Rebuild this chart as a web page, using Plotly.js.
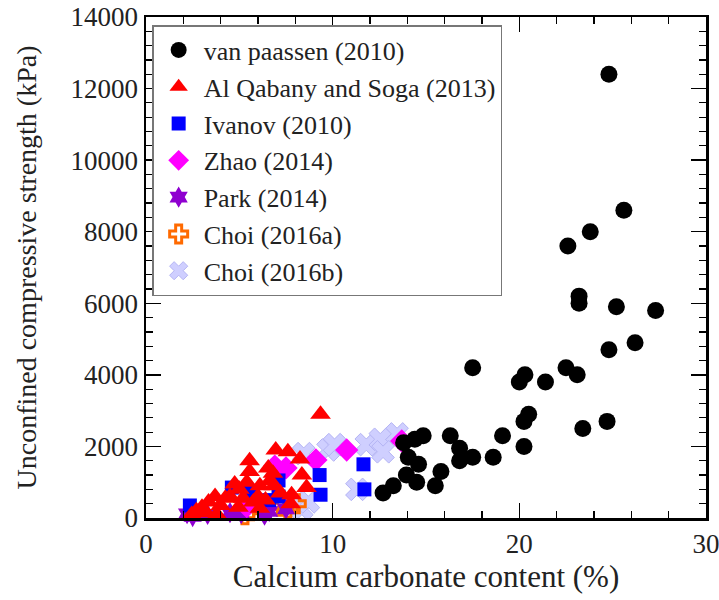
<!DOCTYPE html>
<html>
<head>
<meta charset="utf-8">
<script src="https://cdn.plot.ly/plotly-3.0.1.min.js"></script>
<style>
  html, body { margin: 0; padding: 0; background: #fff; }
  #chart { width: 719px; height: 600px; }
</style>
</head>
<body>
<div id="chart"></div>
<script>
// CaCO3 content (%) vs. unconfined compressive strength (kPa), by study
const vanPaassenX = [24.8, 25.6, 23.8, 22.6, 23.2, 23.2, 25.2, 27.3, 24.8, 26.2, 17.5, 20.0, 20.3, 21.4, 22.5, 23.1, 20.5, 20.25, 20.25, 23.4, 24.7, 19.1, 18.6, 16.3, 16.8, 16.8, 17.5, 15.8, 15.5, 14.85, 14.4, 13.8, 14.05, 14.6, 13.95, 14.5, 13.25, 12.7];
const vanPaassenY = [12400, 8600, 8000, 7600, 6200, 6000, 5900, 5800, 4700, 4900, 4200, 3800, 4000, 3800, 4200, 4000, 2900, 2700, 2000, 2500, 2700, 2300, 1700, 2300, 1950, 1600, 1700, 1300, 900, 2300, 2200, 2100, 1700, 1500, 1200, 1000, 900, 700];

const alQabanyX = [9.35, 6.95, 7.6, 8.25, 8.35, 8.6, 7.8, 7.75, 6.8, 6.85, 5.55, 5.55, 6.55, 5.4, 5.0, 6.1, 6.65, 4.25, 3.7, 3.35, 2.7, 3.8, 2.45, 4.95, 5.75, 6.1, 4.75, 4.5, 6.0, 7.2, 3.0, 4.0, 5.2, 6.4, 3.2];
const alQabanyY = [2900, 1900, 1850, 1650, 1200, 850, 650, 400, 1250, 900, 1600, 1300, 1400, 1000, 800, 900, 1050, 550, 600, 450, 200, 100, 100, 300, 450, 270, 950, 600, 600, 700, 300, 350, 550, 500, 150];

const ivanovX = [2.35, 4.6, 7.1, 7.1, 9.3, 9.35, 11.65, 11.7, 6.6, 5.6];
const ivanovY = [350, 850, 1050, 600, 1200, 650, 1500, 800, 500, 700];

const zhaoX = [10.75, 9.1, 7.5, 13.7, 5.4, 6.9];
const zhaoY = [1900, 1620, 1400, 2150, 320, 1450];

const parkX = [2.2, 2.5, 3.3, 4.5, 5.1, 6.35, 6.6, 7.5];
const parkY = [120, 40, 100, 150, 120, 80, 180, 250];

const choiAX = [5.3, 5.6, 7.6, 8.05, 6.3, 7.2];
const choiAY = [90, 200, 270, 400, 220, 330];

const choiBX = [8.35, 8.7, 8.45, 9.75, 10.1, 11.8, 12.55, 13.45, 11.3, 12.7];
const choiBY = [250, 450, 1800, 1900, 2050, 2050, 2200, 2350, 800, 1850];

const xTickVals = [0, 10, 20, 30];
const yTickVals = [0, 2000, 4000, 6000, 8000, 10000, 12000, 14000];

// drawn bottom-to-top; legend order is reversed so van Paassen is listed first
const traces = [
  { name: 'Choi (2016b)', x: choiBX, y: choiBY,
    marker: { symbol: 'x', size: 20, color: '#cfcfff', line: { color: '#b4b4f4', width: 1 } } },
  { name: 'Choi (2016a)', x: choiAX, y: choiAY,
    marker: { symbol: 'cross-open', size: 15, color: '#ff6a00', line: { color: '#ff6a00', width: 3 } } },
  { name: 'Park (2014)', x: parkX, y: parkY,
    marker: { symbol: 'hexagram', size: 16, color: '#8f00d0' } },
  { name: 'Zhao (2014)', x: zhaoX, y: zhaoY,
    marker: { symbol: 'diamond', size: 18, color: '#ff00ff' } },
  { name: 'Ivanov (2010)', x: ivanovX, y: ivanovY,
    marker: { symbol: 'square', size: 14, color: '#0000ff' } },
  { name: 'Al Qabany and Soga (2013)', x: alQabanyX, y: alQabanyY,
    marker: { symbol: 'triangle-up', size: 18, color: '#ff0000' } },
  { name: 'van paassen (2010)', x: vanPaassenX, y: vanPaassenY,
    marker: { symbol: 'circle', size: 17, color: '#000000' } }
].map(t => Object.assign({ type: 'scatter', mode: 'markers', cliponaxis: false }, t));

const serif = '"Liberation Serif", serif';

const axisBase = {
  showline: true, linecolor: '#000', linewidth: 2.5, mirror: 'ticks',
  ticks: 'inside', ticklen: 15, tickwidth: 1.5, tickcolor: '#000',
  showgrid: false, zeroline: false, tickformat: 'd',
  ticklabeloverflow: 'allow',
  tickfont: { family: serif, size: 27, color: '#222' }
};

const layout = {
  width: 719, height: 600,
  margin: { l: 146, r: 13, t: 17, b: 82 },
  paper_bgcolor: '#fff', plot_bgcolor: '#fff',
  showlegend: true,
  font: { family: serif, color: '#222' },
  xaxis: Object.assign({}, axisBase, {
    range: [0, 30], tickmode: 'array', tickvals: xTickVals,
    minor: { dtick: 2, ticks: 'inside', ticklen: 7, tickwidth: 1.2, tickcolor: '#000' },
    title: { text: 'Calcium carbonate content (%)', font: { family: serif, size: 31, color: '#222' }, standoff: 6 }
  }),
  yaxis: Object.assign({}, axisBase, {
    range: [0, 14000], tickmode: 'array', tickvals: yTickVals,
    minor: { dtick: 400, ticks: 'inside', ticklen: 7, tickwidth: 1.2, tickcolor: '#000' },
    title: { text: 'Unconfined compressive strength (kPa)', font: { family: serif, size: 28, color: '#222' }, standoff: 26 }
  }),
  legend: {
    x: 0.011, y: 0.984, xanchor: 'left', yanchor: 'top',
    traceorder: 'reversed', itemwidth: 40,
    entrywidth: 330, entrywidthmode: 'pixels',
    bgcolor: '#fff', bordercolor: '#777', borderwidth: 1.5,
    font: { family: serif, size: 26, color: '#222' }
  }
};

Plotly.newPlot('chart', traces, layout, { displayModeBar: false, staticPlot: true });
</script>
</body>
</html>
